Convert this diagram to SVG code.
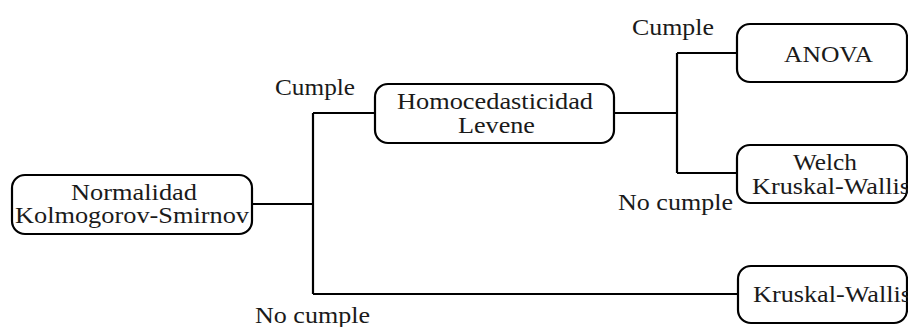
<svg xmlns="http://www.w3.org/2000/svg" width="908" height="327" viewBox="0 0 908 327">
  <style>
    .box { fill: #ffffff; stroke: #000000; stroke-width: 2.2; }
    .wire { fill: none; stroke: #000000; stroke-width: 2.2; }
    text { font-family: "Liberation Serif", "Tinos", "Nimbus Roman", "Nimbus Roman No9 L", "FreeSerif", "DejaVu Serif", "Noto Serif", "Times New Roman", Times, serif; font-size: 23px; fill: #1a1a1a; }
  </style>
  <rect width="908" height="327" fill="#ffffff"/>

  <!-- tree branches -->
  <g id="connectors">
    <path class="wire" d="M252,204 H313 M313,113 V294 M313,113 H375 M313,294 H738"/>
    <path class="wire" d="M614,113 H677 M677,53 V173 M677,53 H737 M677,173 H737"/>
  </g>

  <!-- branch labels -->
  <g id="labels">
    <text x="275" y="95" textLength="80" lengthAdjust="spacingAndGlyphs">Cumple</text>
    <text x="255" y="323" textLength="115" lengthAdjust="spacingAndGlyphs">No cumple</text>
    <text x="632" y="35" textLength="82" lengthAdjust="spacingAndGlyphs">Cumple</text>
    <text x="618" y="210" textLength="115" lengthAdjust="spacingAndGlyphs">No cumple</text>
  </g>

  <g id="normalidad">
    <rect class="box" x="12" y="175" width="240" height="59" rx="13"/>
    <text x="71" y="200" textLength="126" lengthAdjust="spacingAndGlyphs">Normalidad</text>
    <text x="15" y="223" textLength="234" lengthAdjust="spacingAndGlyphs">Kolmogorov-Smirnov</text>
  </g>

  <g id="homocedasticidad">
    <rect class="box" x="375" y="84" width="239" height="59" rx="13"/>
    <text x="397" y="109" textLength="196" lengthAdjust="spacingAndGlyphs">Homocedasticidad</text>
    <text x="458" y="133" textLength="77" lengthAdjust="spacingAndGlyphs">Levene</text>
  </g>

  <g id="anova">
    <rect class="box" x="737" y="24" width="170" height="58" rx="13"/>
    <text x="784" y="62" textLength="89" lengthAdjust="spacingAndGlyphs">ANOVA</text>
  </g>

  <g id="welch">
    <rect class="box" x="737" y="145" width="170" height="58" rx="13"/>
    <text x="793" y="170" textLength="64" lengthAdjust="spacingAndGlyphs">Welch</text>
    <text x="752" y="194" textLength="158" lengthAdjust="spacingAndGlyphs">Kruskal-Wallis</text>
  </g>

  <g id="kruskal-wallis">
    <rect class="box" x="738" y="266" width="169" height="57" rx="13"/>
    <text x="753" y="302" textLength="158" lengthAdjust="spacingAndGlyphs">Kruskal-Wallis</text>
  </g>
</svg>
